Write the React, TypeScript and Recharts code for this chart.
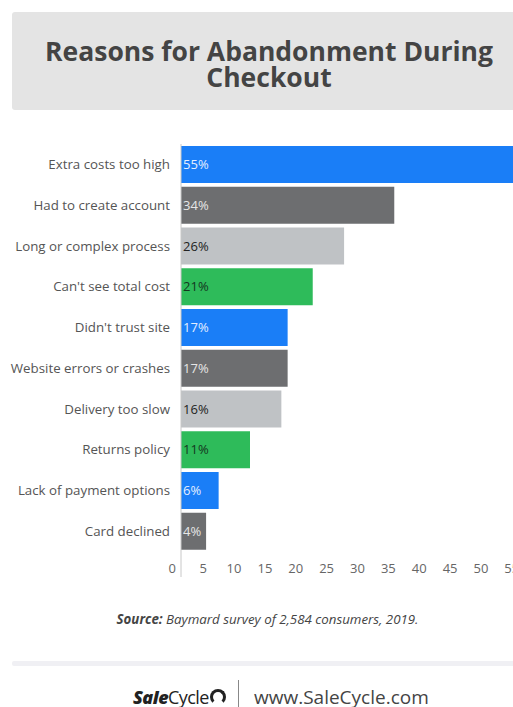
import React from "react";
import { BarChart, Bar, XAxis, YAxis, Cell, LabelList } from "recharts";

const categories = [
  "Extra costs too high",
  "Had to create account",
  "Long or complex process",
  "Can't see total cost",
  "Didn't trust site",
  "Website errors or crashes",
  "Delivery too slow",
  "Returns policy",
  "Lack of payment options",
  "Card declined",
];
const values = [55, 34, 26, 21, 17, 17, 16, 11, 6, 4];
const xTicks = [0, 5, 10, 15, 20, 25, 30, 35, 40, 45, 50, 55];

const palette = ["#1a7ef7", "#6d6e70", "#bfc2c5", "#2ebb5a"];
const labelColors = ["#e4eeff", "#e6e6e6", "#222222", "#14361f"];

const data = categories.map((name, i) => ({ name, value: values[i] }));

const FONT = "'Open Sans', 'Noto Sans', sans-serif";

const XTick = (props: any) => {
  const { x, y, payload } = props;
  return (
    <text
      x={x - 8.7 - 0.1 * payload.value}
      y={y - 4}
      textAnchor="middle"
      fill="#666"
      fontSize={13}
      fontFamily={FONT}
    >
      {payload.value}
    </text>
  );
};

const ValueLabel = (props: any) => {
  const { x, y, height, value, index } = props;
  return (
    <text
      x={x + 2}
      y={y + height / 2 + 4.5}
      fill={labelColors[index % 4]}
      fontSize={13}
      fontFamily={FONT}
    >
      {value}%
    </text>
  );
};

export default function App() {
  return (
    <div
      style={{
        position: "fixed",
        left: 0,
        top: 0,
        width: 513,
        height: 707,
        overflow: "hidden",
        background: "#fff",
        fontFamily: FONT,
      }}
    >
      <div
        style={{
          position: "absolute",
          left: 12,
          top: 12,
          width: 520,
          height: 98,
          background: "#e4e4e4",
          borderRadius: 3,
        }}
      />
      <div
        style={{
          position: "absolute",
          left: 12,
          top: 38,
          width: 514,
          textAlign: "center",
          fontSize: 26.5,
          fontWeight: 700,
          lineHeight: "26px",
          color: "#444",
        }}
      >
        <div>Reasons for Abandonment During</div>
        <div>Checkout</div>
      </div>

      <div style={{ position: "absolute", left: 0, top: 0 }}>
        <BarChart
          width={530}
          height={600}
          data={data}
          layout="vertical"
          margin={{ top: 144, right: 4, bottom: 0, left: 0 }}
          barSize={37}
        >
          <XAxis
            type="number"
            domain={[0, 55]}
            ticks={xTicks}
            axisLine={false}
            tickLine={false}
            tickSize={0}
            tickMargin={0}
            height={23}
            tick={<XTick />}
            interval={0}
          />
          <YAxis
            type="category"
            dataKey="name"
            width={181}
            axisLine={{ stroke: "#c8c8c8" }}
            tickLine={false}
            tickSize={0}
            tickMargin={11}
            padding={{ top: 0, bottom: 25.5 }}
            tick={{ fill: "#555", fontSize: 13.3, fontFamily: FONT }}
            interval={0}
          />
          <Bar dataKey="value" isAnimationActive={false}>
            {data.map((_, i) => (
              <Cell key={i} fill={palette[i % 4]} />
            ))}
            <LabelList dataKey="value" content={<ValueLabel />} />
          </Bar>
        </BarChart>
      </div>

      <div
        style={{
          position: "absolute",
          left: 0,
          top: 610,
          width: 535,
          textAlign: "center",
          fontSize: 13.3,
          fontStyle: "italic",
          color: "#444",
        }}
      >
        <b>Source:</b> Baymard survey of 2,584 consumers, 2019.
      </div>

      <div
        style={{
          position: "absolute",
          left: 12,
          top: 661,
          width: 520,
          height: 5,
          background: "#f0f0f4",
          borderRadius: 2,
        }}
      />

      <div
        style={{
          position: "absolute",
          left: 133,
          top: 687,
          fontSize: 18,
          color: "#222",
          whiteSpace: "nowrap",
          lineHeight: "20px",
        }}
      >
        <span style={{ fontWeight: 800, fontStyle: "italic", letterSpacing: -0.5 }}>Sale</span>
        <span style={{ letterSpacing: -0.6 }}>Cycle</span>
        <span
          style={{
            display: "inline-block",
            width: 16,
            height: 16,
            border: "3px solid #222",
            borderRadius: "50%",
            borderBottomColor: "transparent",
            marginLeft: 1,
            verticalAlign: -1,
            boxSizing: "border-box",
          }}
        />
      </div>
      <div
        style={{
          position: "absolute",
          left: 238,
          top: 680,
          width: 1,
          height: 27,
          background: "#888",
        }}
      />
      <div
        style={{
          position: "absolute",
          left: 254,
          top: 684,
          fontSize: 19,
          color: "#444",
          whiteSpace: "nowrap",
          lineHeight: "26px",
        }}
      >
        www.SaleCycle.com
      </div>
    </div>
  );
}
